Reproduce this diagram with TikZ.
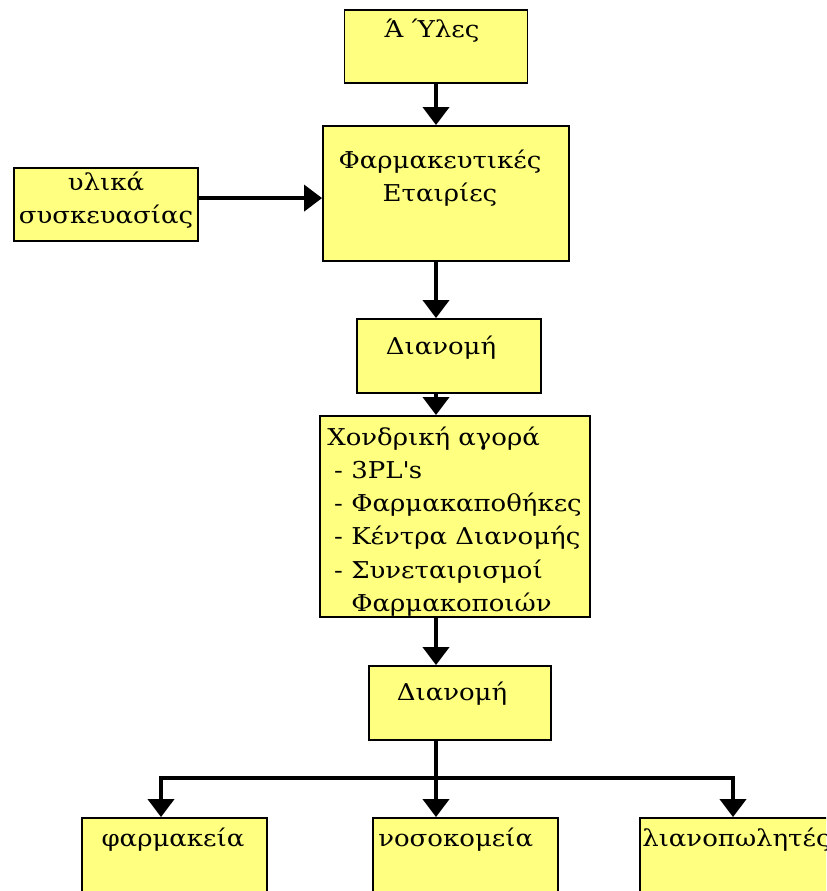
\documentclass[tikz,border=0pt]{standalone}
\usepackage{fontspec}
\setmainfont{DejaVu Serif}[FakeStretch=1.12]
\usetikzlibrary{arrows.meta}
\definecolor{BoxYellow}{HTML}{FFFF80}
\definecolor{Ink}{HTML}{000000}

\begin{document}
\begin{tikzpicture}[x=0.025cm, y=-0.025cm,
  box/.style={draw=Ink, line width=1.3pt, fill=BoxYellow, inner sep=0pt},
  lab/.style={inner sep=0pt, anchor=north, align=center, font=\fontsize{16.5}{23.5}\selectfont},
  arr/.style={draw=Ink, line width=2.8pt, -{Triangle[width=0.65cm,length=0.45cm]}}]
\useasboundingbox (0,0) rectangle (826,891);
\clip (0,0) rectangle (826,891);

% --- supply chain boxes ---
\node[box, minimum width=4.575cm, minimum height=1.825cm] (hyles) at (436,46.5) {};
\node[box, minimum width=6.15cm, minimum height=3.375cm] (pharma) at (446,193.5) {};
\node[box, minimum width=4.6cm, minimum height=1.825cm] (ylika) at (106,204.5) {};
\node[box, minimum width=4.6cm, minimum height=1.85cm] (dian1) at (449,356) {};
\node[box, minimum width=6.75cm, minimum height=5.025cm] (xondr) at (455,516.5) {};
\node[box, minimum width=4.55cm, minimum height=1.85cm] (dian2) at (460,703) {};

% --- retail end ---
\node[box, minimum width=4.625cm, minimum height=2.05cm] (pharm) at (174.5,859) {};
\node[box, minimum width=4.625cm, minimum height=2.05cm] (hosp) at (465.5,859) {};
\node[box, minimum width=4.75cm, minimum height=2.05cm] (retail) at (735,859) {};

% --- texts ---
\node[lab] (hyles-t) at (432,19) {Ά Ύλες};
\node[lab] (pharma-t) at (440,150) {Φαρμακευτικές\\Εταιρίες};
\node[lab] (ylika-t) at (106,172) {υλικά\\συσκευασίας};
\node[lab] (dian1-t) at (441,336) {Διανομή};
\node[lab, anchor=north west, align=left] (xondr-t) at (327,427) {Χονδρική αγορά\\
  \hspace*{0.3em}- 3PL\textquotesingle s\\
  \hspace*{0.3em}- Φαρμακαποθήκες\\
  \hspace*{0.3em}- Κέντρα Διανομής\\
  \hspace*{0.3em}- Συνεταιρισμοί\\
  \hspace*{0.3em}\phantom{- }Φαρμακοποιών};
\node[lab] (dian2-t) at (452,682) {Διανομή};
\node[lab] (pharm-t) at (173,828) {φαρμακεία};
\node[lab, anchor=north west] (hosp-t) at (378,828) {νοσοκομεία};
\node[lab, anchor=north west] (retail-t) at (642,828) {λιανοπωλητές};

% --- arrows ---
\draw[arr] (hyles.south) -- (hyles.south |- pharma.north);
\draw[arr] ([yshift=0.16cm]ylika.east) -- ([yshift=0.16cm]ylika.east -| pharma.west);
\draw[arr] (pharma.south -| hyles) -- (dian1.north -| hyles);
\draw[arr] (dian1.south -| hyles) -- (xondr.north -| hyles);
\draw[arr] (xondr.south -| hyles) -- (dian2.north -| hyles);
\coordinate (split) at (436,778);
\coordinate (drop-l) at (161,778);
\coordinate (drop-r) at (733,778);
\draw[arr] (dian2.south -| split) -- (hosp.north -| split);
\draw[arr] (split) -- (drop-l) -- (drop-l |- pharm.north);
\draw[arr] (split) -- (drop-r) -- (drop-r |- retail.north);
\end{tikzpicture}
\end{document}
